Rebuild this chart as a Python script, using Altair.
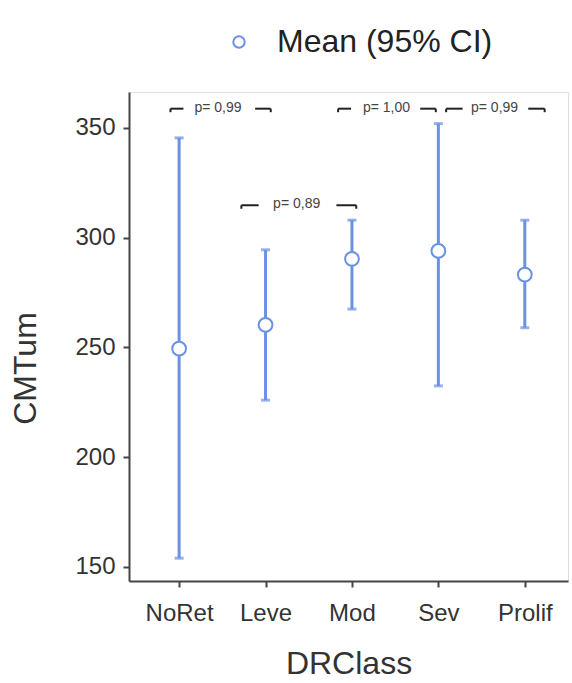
import altair as alt
import pandas as pd

# ---- data ----
categories = ["NoRet", "Leve", "Mod", "Sev", "Prolif"]
cat_pos = [1, 2, 3, 4, 5]
means = [249.5, 260.3, 290.4, 294.0, 283.2]
ci_low = [154.0, 226.0, 267.5, 232.5, 259.0]
ci_high = [345.5, 294.5, 308.0, 352.0, 308.0]

# pairwise comparison brackets (positions in category units, level in CMTum units)
p_labels = ["p= 0,99", "p=  0,89", "p= 1,00", "p= 0,99"]
br_left_a = [0.90, 1.72, 2.84, 4.09]
br_left_b = [1.05, 1.92, 2.99, 4.28]
br_right_a = [1.88, 2.82, 3.79, 5.04]
br_right_b = [2.06, 3.05, 3.97, 5.23]
br_text_x = [1.45, 2.36, 3.40, 4.65]
br_level = [358.8, 314.8, 358.8, 358.8]

BLUE = "#6b92e2"
TXT = "#333333"

df = pd.DataFrame({
    "pos": cat_pos, "cat": categories, "mean": means,
    "lo": ci_low, "hi": ci_high, "series": ["Mean (95% CI)"] * 5,
})
br = pd.DataFrame({
    "la": br_left_a, "lb": br_left_b, "ra": br_right_a, "rb": br_right_b,
    "tx": br_text_x, "lvl": br_level, "p": p_labels,
})
br["tick"] = br["lvl"] - 1.6

label_expr = "[" + ",".join(f"'{c}'" for c in categories) + "][datum.value - 1]"

xs = alt.Scale(domain=[0.42, 5.5], nice=False, zero=False)
ys = alt.Scale(domain=[143.6, 366.4], nice=False, zero=False)

x_axis = alt.Axis(values=cat_pos, labelExpr=label_expr, title="DRClass",
                  grid=False, labelFontSize=24, titleFontSize=32,
                  labelColor=TXT, titleColor=TXT, labelPadding=14, titlePadding=23,
                  domainColor="#444", domainWidth=2, tickColor="#444",
                  tickWidth=2, tickSize=6, labelFont="Liberation Sans",
                  titleFont="Liberation Sans", titleFontWeight="normal")
y_axis = alt.Axis(values=[150, 200, 250, 300, 350], title="CMTum", grid=False,
                  labelFontSize=24, titleFontSize=32, labelColor=TXT,
                  titleColor=TXT, labelPadding=8,
                  titleX=-104, titleY=276, titleAlign="center",
                  titleBaseline="middle",
                  domainColor="#444", domainWidth=2, tickColor="#444",
                  tickWidth=2, tickSize=6, labelFont="Liberation Sans",
                  titleFont="Liberation Sans", titleFontWeight="normal")

base = alt.Chart(df)

ci = base.mark_rule(color=BLUE, strokeWidth=3).encode(
    x=alt.X("pos:Q", scale=xs, axis=x_axis),
    y=alt.Y("lo:Q", scale=ys, axis=y_axis),
    y2="hi:Q",
)
cap_lo = base.mark_tick(color=BLUE, orient="horizontal", size=9, thickness=3).encode(
    x=alt.X("pos:Q", scale=xs), y=alt.Y("lo:Q", scale=ys))
cap_hi = base.mark_tick(color=BLUE, orient="horizontal", size=9, thickness=3).encode(
    x=alt.X("pos:Q", scale=xs), y=alt.Y("hi:Q", scale=ys))

pts = base.mark_point(shape="circle", filled=True, fill="white", size=190,
                      strokeWidth=2, opacity=1).encode(
    x=alt.X("pos:Q", scale=xs),
    y=alt.Y("mean:Q", scale=ys),
    stroke=alt.Stroke("series:N",
                      scale=alt.Scale(range=[BLUE]),
                      legend=alt.Legend(title=None, orient="none",
                                        legendX=94, legendY=-66,
                                        labelFontSize=32, labelColor="#222",
                                        labelFont="Liberation Sans",
                                        labelLimit=0,
                                        symbolType="circle", symbolSize=130,
                                        symbolStrokeWidth=2,
                                        symbolFillColor="white",
                                        labelOffset=22)),
)

bb = alt.Chart(br)
seg_l = bb.mark_rule(color="#222", strokeWidth=2).encode(
    x=alt.X("la:Q", scale=xs), x2="lb:Q", y=alt.Y("lvl:Q", scale=ys))
seg_r = bb.mark_rule(color="#222", strokeWidth=2).encode(
    x=alt.X("ra:Q", scale=xs), x2="rb:Q", y=alt.Y("lvl:Q", scale=ys))
tick_l = bb.mark_rule(color="#222", strokeWidth=2).encode(
    x=alt.X("la:Q", scale=xs), y=alt.Y("lvl:Q", scale=ys), y2="tick:Q")
tick_r = bb.mark_rule(color="#222", strokeWidth=2).encode(
    x=alt.X("rb:Q", scale=xs), y=alt.Y("lvl:Q", scale=ys), y2="tick:Q")
ptxt = bb.mark_text(fontSize=14, color="#444", font="Liberation Sans",
                    baseline="middle", dy=-1).encode(
    x=alt.X("tx:Q", scale=xs), y=alt.Y("lvl:Q", scale=ys), text="p:N")

chart = alt.layer(ci, cap_lo, cap_hi, pts, seg_l, seg_r, tick_l, tick_r, ptxt).properties(
    width=439, height=489,
    autosize=alt.AutoSizeParams(type="none"),
    padding={"left": 129, "top": 92, "right": 4, "bottom": 102},
).configure_view(stroke=None).configure(background="white")

chart.save("out.html", embed_options={"renderer": "svg", "actions": False})
